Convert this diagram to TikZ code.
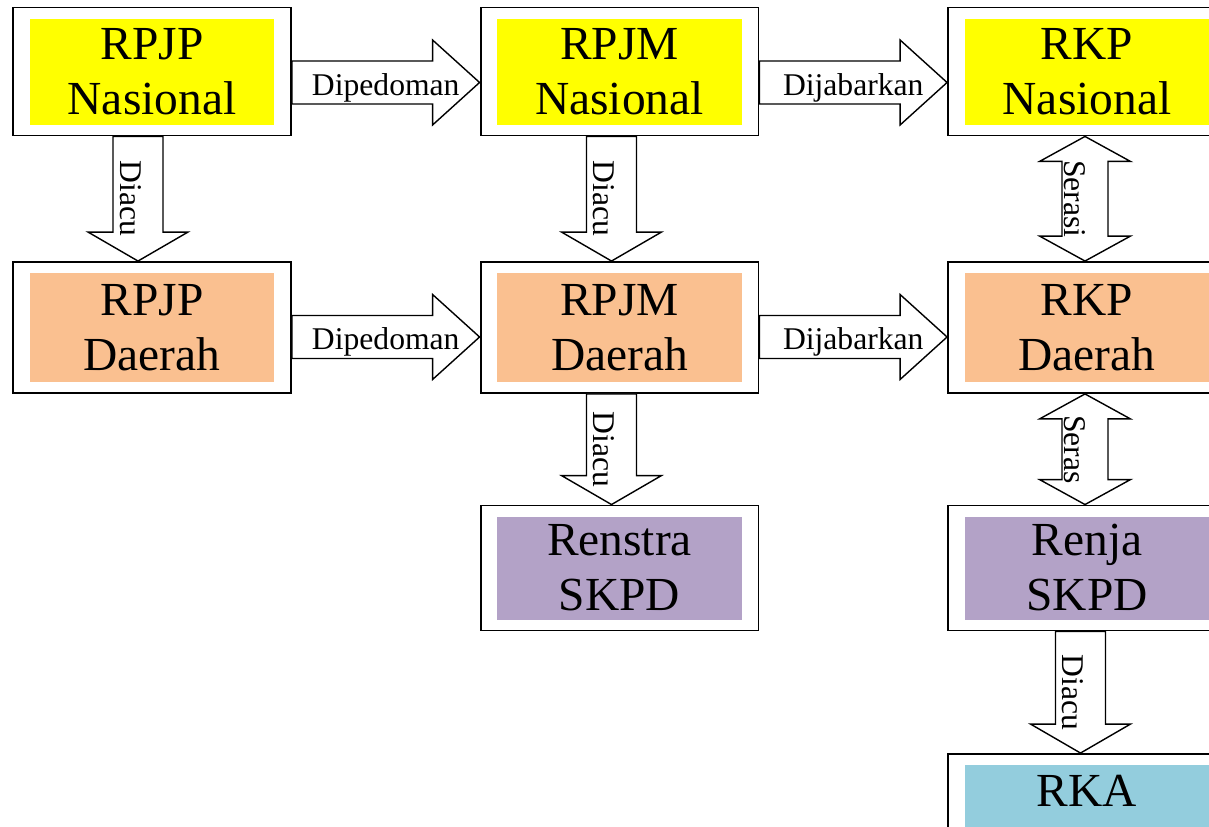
\documentclass[tikz,border=0pt]{standalone}
\usepackage{fontspec}
\setmainfont{Liberation Serif}
\usetikzlibrary{calc}
\definecolor{kuning}{HTML}{FFFF00}
\definecolor{jingga}{HTML}{FAC090}
\definecolor{ungu}{HTML}{B3A2C7}
\definecolor{biru}{HTML}{93CDDD}
\tikzset{
	box/.style={draw, line width=1.1pt, fill=white, minimum width=5.56cm, minimum height=2.56cm, inner sep=0pt, align=center, font=\fontsize{27}{31.3}\selectfont,
		path picture={\fill[#1] ([xshift=0.33cm,yshift=-0.22cm]path picture bounding box.north west) rectangle ([xshift=-0.33cm,yshift=0.21cm]path picture bounding box.south east);}},
	lbl/.style={inner sep=0, font=\fontsize{18}{20}\selectfont},
	fat/.style={draw, line width=0.8pt, fill=white, line join=miter},
	hfat/.style={fat, to path={let \p1=(\tikztostart), \p2=(\tikztotarget) in
		(\x1,{\y1+0.43cm}) -- ({\x2-0.94cm},{\y1+0.43cm}) -- ({\x2-0.94cm},{\y1+0.85cm}) -- (\x2,\y1) -- ({\x2-0.94cm},{\y1-0.85cm}) -- ({\x2-0.94cm},{\y1-0.43cm}) -- (\x1,{\y1-0.43cm}) -- cycle
		node[lbl] at ({(\x1+\x2)/2},{\y1-0.1cm}) {#1}}},
	vfat/.style={fat, to path={let \p1=(\tikztostart), \p2=(\tikztotarget) in
		({\x1-0.5cm},\y1) -- ({\x1+0.5cm},\y1) -- ({\x1+0.5cm},{\y2+0.58cm}) -- ({\x1+1cm},{\y2+0.58cm}) -- (\x1,\y2) -- ({\x1-1cm},{\y2+0.58cm}) -- ({\x1-0.5cm},{\y2+0.58cm}) -- cycle
		node[lbl, rotate=-90] at ({\x1-0.15cm},{(\y1+\y2)/2}) {#1}}},
	vdouble/.style={fat, to path={let \p1=(\tikztostart), \p2=(\tikztotarget) in
		(\x1,\y1) -- ({\x1+0.91cm},{\y1-0.5cm}) -- ({\x1+0.46cm},{\y1-0.5cm}) -- ({\x1+0.46cm},{\y2+0.5cm}) -- ({\x1+0.91cm},{\y2+0.5cm}) -- (\x1,\y2) -- ({\x1-0.91cm},{\y2+0.5cm}) -- ({\x1-0.46cm},{\y2+0.5cm}) -- ({\x1-0.46cm},{\y1-0.5cm}) -- ({\x1-0.91cm},{\y1-0.5cm}) -- cycle
		node[lbl, rotate=-90] at ({\x1-0.2cm},{(\y1+\y2)/2}) {#1}}}
}
\begin{document}
\begin{tikzpicture}[x=0.02cm, y=-0.02cm]
		\clip (0,0) rectangle (1209,827);
		\node [box=kuning] (rpjpn) at (152,71.5) {RPJP\\Nasional};
		\node [box=kuning] (rpjmn) at (619.5,71.5) {RPJM\\Nasional};
		\node [box=kuning] (rkpn) at (1087,71.5) {RKP\\Nasional};
		\node [box=jingga, minimum height=2.62cm] (rpjpd) at (152,327.5) {RPJP\\Daerah};
		\node [box=jingga, minimum height=2.62cm] (rpjmd) at (619.5,327.5) {RPJM\\Daerah};
		\node [box=jingga, minimum height=2.62cm] (rkpd) at (1087,327.5) {RKP\\Daerah};
		\node [box=ungu, minimum height=2.5cm] (renstra) at (619.5,568) {Renstra\\SKPD};
		\node [box=ungu, minimum height=2.5cm] (renja) at (1087,568) {Renja\\SKPD};
		\node [box=biru] (rka) at (1087,818) {RKA\\\mbox{}};
		\draw [hfat=Dipedoman] ([yshift=-0.22cm]rpjpn.east) to ([yshift=-0.22cm]rpjmn.west);
		\draw [hfat=Dijabarkan] ([yshift=-0.22cm]rpjmn.east) to ([yshift=-0.22cm]rkpn.west);
		\draw [hfat=Dipedoman] ([yshift=-0.19cm]rpjpd.east) to ([yshift=-0.19cm]rpjmd.west);
		\draw [hfat=Dijabarkan] ([yshift=-0.19cm]rpjmd.east) to ([yshift=-0.19cm]rkpd.west);
		\draw [vfat=Diacu] ([xshift=-0.28cm]rpjpn.south) to ([xshift=-0.28cm]rpjpd.north);
		\draw [vfat=Diacu] ([xshift=-0.16cm]rpjmn.south) to ([xshift=-0.16cm]rpjmd.north);
		\draw [vfat=Diacu] ([xshift=-0.16cm]rpjmd.south) to ([xshift=-0.16cm]renstra.north);
		\draw [vdouble=Serasi] ([xshift=-0.04cm]rkpn.south) to ([xshift=-0.04cm]rkpd.north);
		\draw [vdouble=Seras] ([xshift=-0.04cm]rkpd.south) to ([xshift=-0.04cm]renja.north);
		\draw [vfat=Diacu] ([xshift=-0.13cm]renja.south) to ([xshift=-0.13cm]rka.north);
	\end{tikzpicture}
\end{document}
